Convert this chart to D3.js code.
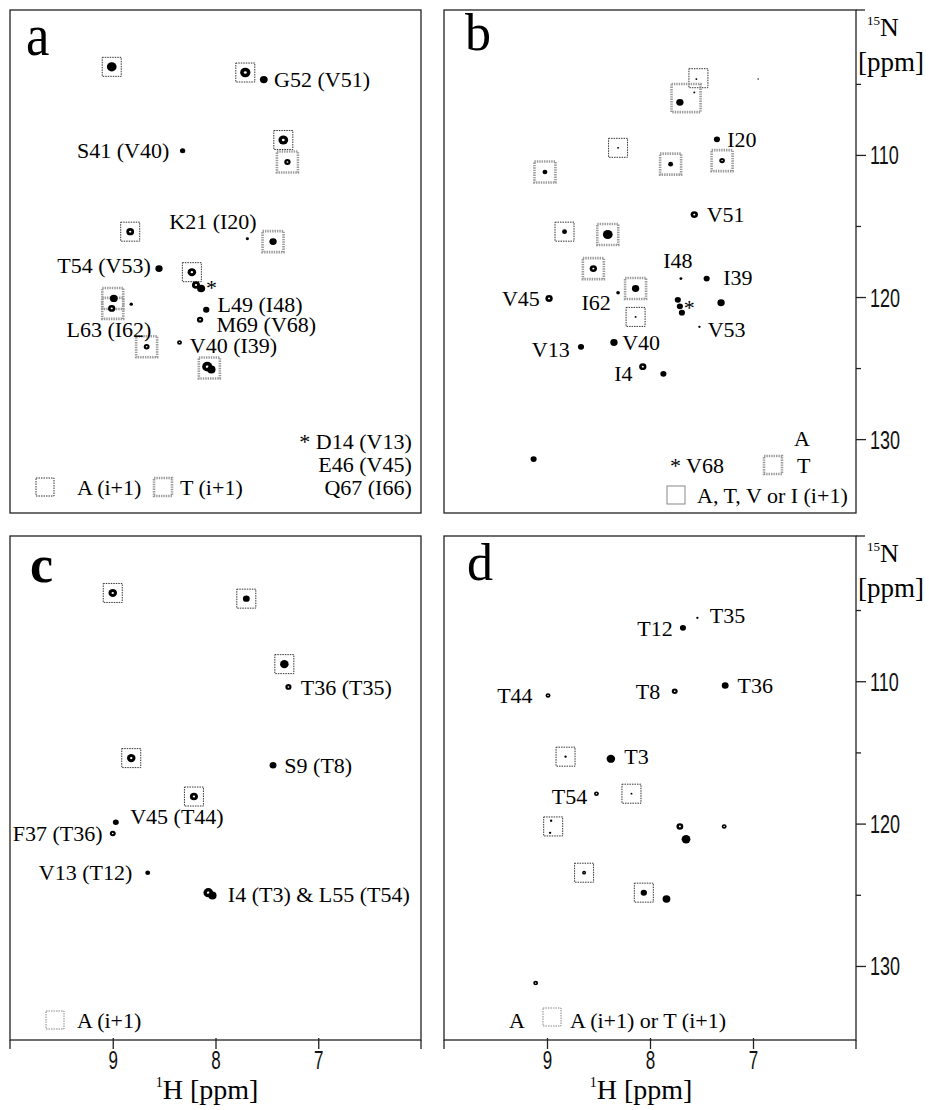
<!DOCTYPE html>
<html>
<head>
<meta charset="utf-8">
<script src="https://cdn.jsdelivr.net/npm/d3@7"></script>
<style>
body { margin: 0; background: #fff; }
svg { display: block; }
</style>
</head>
<body>
<svg id="fig" width="929" height="1110"></svg>
<script>
// spectral window shared by all four panels (ppm)
var H_DOMAIN = [10, 6];
var N_DOMAIN = [99.8, 135.2];
var H_TICKS = [9, 8, 7];
var N_TICKS = [105, 110, 115, 120, 125, 130];

// peaks: [1H ppm, 15N ppm, contour level, 'o' = open top contour]
var peaksA = [
  [9.01, 103.8, 4, '.'], [7.71, 104.2, 4.2, 'o'], [7.53, 104.7, 3.2, '.'],
  [8.32, 109.7, 2.2, '.'], [7.34, 108.95, 4, 'o'], [7.30, 110.5, 2.6, 'o'],
  [7.69, 115.9, 1.3, '.'], [8.83, 115.4, 3.2, 'o'], [7.44, 116.1, 3, '.'],
  [8.55, 118.0, 3, '.'], [8.23, 118.25, 3.5, 'o'], [8.19, 119.15, 3.3, 'o'],
  [8.14, 119.4, 3.3, '.'], [8.99, 120.1, 3.2, '.'], [9.01, 120.8, 3, 'o'],
  [8.82, 120.5, 1.4, '.'], [8.09, 120.9, 2.6, '.'], [8.15, 121.6, 2.6, 'o'],
  [8.67, 123.5, 2.4, 'o'], [8.35, 123.2, 2, 'o'], [8.08, 124.9, 4.2, 'o'],
  [8.04, 125.1, 3.4, '.']
];
// boxes: [1H, 15N, residue type of i+1, optional half widths in ppm]
var boxesA = [
  [9.01, 103.8, 'A'], [7.71, 104.2, 'A'], [7.34, 108.95, 'A'], [7.30, 110.5, 'T'],
  [8.83, 115.4, 'A'], [7.44, 116.1, 'T'], [8.23, 118.25, 'A'], [9.0, 120.1, 'T'],
  [9.0, 120.8, 'T'], [8.67, 123.5, 'T'], [8.06, 125.0, 'T']
];
var labelsA = [
  ['G52 (V51)', 7.43, 104.7, 'start'], ['S41 (V40)', 8.45, 109.7, 'end'],
  ['K21 (I20)', 8.45, 114.7, 'start'], ['T54 (V53)', 9.54, 117.76, 'start'],
  ['*', 8.04, 119.35, 'middle'], ['L49 (I48)', 7.98, 120.5, 'start'],
  ['M69 (V68)', 7.99, 121.9, 'start'], ['L63 (I62)', 9.45, 122.3, 'start'],
  ['V40 (I39)', 8.25, 123.4, 'start'], ['* D14 (V13)', 6.09, 130.15, 'end'],
  ['E46 (V45)', 6.09, 131.75, 'end'], ['Q67 (I66)', 6.09, 133.4, 'end']
];

var peaksB = [
  [7.55, 104.66, 0.8, '.'], [7.71, 106.3, 3, '.'], [7.57, 105.6, 0.8, '.'],
  [6.95, 104.66, 0.6, '.'], [7.35, 108.9, 2.5, '.'], [8.31, 109.5, 0.8, '.'],
  [9.02, 111.2, 2, '.'], [7.80, 110.65, 2, '.'], [7.30, 110.4, 2.3, 'o'],
  [7.57, 114.2, 3, 'o'], [8.83, 115.4, 2, '.'], [8.41, 115.6, 4, '.'],
  [8.55, 118.0, 3, 'o'], [7.70, 118.7, 1.2, '.'], [7.45, 118.7, 2.5, '.'],
  [8.98, 120.1, 3, 'o'], [8.31, 119.7, 1.5, '.'], [8.14, 119.4, 3, '.'],
  [8.14, 121.4, 0.8, '.'], [7.73, 120.2, 2.5, '.'], [7.71, 120.65, 2.5, '.'],
  [7.69, 121.1, 2.5, '.'], [7.31, 120.4, 3, '.'], [7.52, 122.1, 1, '.'],
  [8.35, 123.2, 3, '.'], [8.67, 123.5, 2.5, '.'], [8.07, 124.9, 3, 'o'],
  [7.87, 125.4, 2.5, '.'], [9.13, 131.4, 2.5, '.']
];
var boxesB = [
  [7.53, 104.6, 'A'], [7.65, 106.0, 'T', 0.141, 0.99], [8.31, 109.5, 'A'],
  [9.02, 111.2, 'T'], [7.80, 110.65, 'T'], [7.30, 110.4, 'T'], [8.83, 115.4, 'A'],
  [8.41, 115.6, 'T'], [8.55, 118.0, 'T'], [8.14, 119.4, 'T'], [8.14, 121.4, 'A']
];
var labelsB = [
  ['I20', 7.25, 108.9, 'start'], ['V51', 7.45, 114.2, 'start'], ['I48', 7.73, 117.4, 'middle'],
  ['I39', 7.29, 118.6, 'start'], ['V45', 9.07, 120.1, 'end'], ['I62', 8.38, 120.4, 'end'],
  ['*', 7.62, 120.75, 'middle'], ['V53', 7.44, 122.3, 'start'], ['V40', 8.27, 123.2, 'start'],
  ['V13', 8.78, 123.7, 'end'], ['I4', 8.17, 125.4, 'end']
];

var peaksC = [
  [9.0, 103.8, 3.5, 'o'], [7.70, 104.2, 2.8, '.'], [7.33, 108.8, 3.5, '.'],
  [7.29, 110.4, 2.5, 'o'], [8.82, 115.4, 3.5, 'o'], [7.44, 115.9, 2.8, '.'],
  [8.21, 118.1, 3.3, 'o'], [8.97, 119.9, 2.4, '.'], [9.0, 120.7, 2.4, 'o'],
  [8.66, 123.45, 2, '.'], [8.07, 124.85, 4, 'o'], [8.03, 125.05, 3.4, '.']
];
var boxesC = [
  [9.0, 103.8, 'A'], [7.70, 104.2, 'A'], [7.33, 108.8, 'A'], [8.82, 115.4, 'A'], [8.21, 118.1, 'A']
];
var labelsC = [
  ['T36 (T35)', 7.17, 110.4, 'start'], ['S9 (T8)', 7.33, 115.9, 'start'],
  ['V45 (T44)', 8.83, 119.5, 'start'], ['F37 (T36)', 9.10, 120.7, 'end'],
  ['V13 (T12)', 8.81, 123.45, 'end'], ['I4 (T3) & L55 (T54)', 7.88, 124.95, 'start']
];

var peaksD = [
  [7.68, 106.25, 2.5, '.'], [7.54, 105.55, 1, '.'], [8.99, 111.0, 2, 'o'],
  [7.76, 110.7, 2.4, 'o'], [7.27, 110.3, 2.8, '.'], [8.82, 115.3, 1, '.'],
  [8.38, 115.45, 3.5, '.'], [8.52, 117.9, 2, 'o'], [8.18, 117.9, 0.8, '.'],
  [8.96, 119.8, 1, '.'], [8.97, 120.65, 1, '.'], [7.71, 120.2, 2.8, 'o'],
  [7.65, 121.1, 3.6, '.'], [7.28, 120.2, 2, 'o'], [8.64, 123.45, 1.6, 'o'],
  [8.06, 124.85, 2.6, '.'], [7.84, 125.3, 3.2, '.'], [9.11, 131.2, 2, 'o']
];
var boxesD = [
  [8.82, 115.3, 'A'], [8.18, 117.9, 'A'], [8.94, 120.2, 'A'], [8.64, 123.45, 'A'], [8.06, 124.85, 'A']
];
var labelsD = [
  ['T12', 7.78, 106.25, 'end'], ['T35', 7.42, 105.4, 'start'], ['T44', 9.14, 111.0, 'end'],
  ['T8', 7.90, 110.7, 'end'], ['T36', 7.15, 110.3, 'start'], ['T3', 8.25, 115.3, 'start'],
  ['T54', 8.61, 118.1, 'end']
];

var COLS = [[10, 421], [444, 856]];
var ROWS = [[10, 513], [536, 1040]];
var SERIF = "'Liberation Serif', 'Times New Roman', serif";
var SANS = "'Liberation Sans', Arial, sans-serif";

var panels = [
  {name: 'a', col: 0, row: 0, peaks: peaksA, boxes: boxesA, labels: labelsA, lx: 16, ly: 45, fs: 60, sx: 0.88, bold: false},
  {name: 'b', col: 1, row: 0, peaks: peaksB, boxes: boxesB, labels: labelsB, lx: 21, ly: 40, fs: 52, sx: 1, bold: false},
  {name: 'c', col: 0, row: 1, peaks: peaksC, boxes: boxesC, labels: labelsC, lx: 20, ly: 46, fs: 52, sx: 1, bold: true},
  {name: 'd', col: 1, row: 1, peaks: peaksD, boxes: boxesD, labels: labelsD, lx: 23, ly: 44, fs: 52, sx: 1, bold: false}
];

var svg = d3.select('#fig');

function boxStyle(sel, type) {
  if (type === 'T') {
    sel.attr('stroke', '#9a9a9a').attr('stroke-width', 2.6).attr('stroke-dasharray', '1.4 1');
  } else {
    sel.attr('stroke', '#333').attr('stroke-width', 1).attr('stroke-dasharray', '1.5 1');
  }
}

function drawBox(g, cx, cy, w, h, type) {
  var r = g.append('rect')
      .attr('x', cx - w / 2).attr('y', cy - h / 2)
      .attr('width', w).attr('height', h)
      .attr('fill', 'none');
  boxStyle(r, type);
  return r;
}

function serifText(g, x, y, txt, anchor, size) {
  return g.append('text')
      .attr('x', x).attr('y', y)
      .attr('dy', '0.35em')
      .attr('text-anchor', anchor || 'start')
      .style('font-family', SERIF)
      .style('font-size', (size || 22) + 'px')
      .text(txt);
}

panels.forEach(function(p) {
  var x0 = COLS[p.col][0], x1 = COLS[p.col][1];
  var y0 = ROWS[p.row][0], y1 = ROWS[p.row][1];
  var x = d3.scaleLinear().domain(H_DOMAIN).range([x0, x1]);
  var y = d3.scaleLinear().domain(N_DOMAIN).range([y0, y1]);
  var g = svg.append('g').attr('class', 'panel-' + p.name);

  // frame
  g.append('rect')
      .attr('x', x0).attr('y', y0)
      .attr('width', x1 - x0).attr('height', y1 - y0)
      .attr('fill', 'none').attr('stroke', '#222').attr('stroke-width', 1.3);

  // boxes
  p.boxes.forEach(function(b) {
    var w = b[3] ? Math.abs(x(b[0] + b[3]) - x(b[0] - b[3])) : (b[2] === 'T' ? 21 : 19);
    var h = b[4] ? Math.abs(y(b[1] + b[4]) - y(b[1] - b[4])) : w;
    drawBox(g, x(b[0]), y(b[1]), w, h, b[2]);
  });

  // peaks
  var pk = g.append('g').selectAll('g').data(p.peaks).enter().append('g')
      .attr('transform', function(d) { return 'translate(' + x(d[0]) + ',' + y(d[1]) + ')'; });
  pk.append('ellipse')
      .attr('rx', function(d) { return d[2] * 1.22; })
      .attr('ry', function(d) { return d[2] * 1.15; })
      .attr('fill', '#000');
  pk.filter(function(d) { return d[3] === 'o'; }).append('ellipse')
      .attr('rx', function(d) { return d[2] * 0.35; })
      .attr('ry', function(d) { return d[2] * 0.3; })
      .attr('fill', '#fff');

  // labels
  p.labels.forEach(function(l) {
    serifText(g, x(l[1]), y(l[2]), l[0], l[3]);
  });

  // panel letter
  g.append('text')
      .attr('transform', 'translate(' + (x0 + p.lx) + ',' + (y0 + p.ly) + ') scale(' + p.sx + ',1)')
      .style('font-family', SERIF)
      .style('font-size', p.fs + 'px')
      .style('font-weight', p.bold ? 'bold' : 'normal')
      .text(p.name);

  // 1H axis along the bottom row
  if (p.row === 1) {
    var ax = g.append('g')
        .attr('transform', 'translate(0,' + y1 + ')')
        .call(d3.axisBottom(x).tickValues(H_TICKS).tickSize(9).tickSizeOuter(0).tickFormat(d3.format('d')));
    ax.select('.domain').remove();
    ax.attr('font-family', null).attr('font-size', null);
    ax.selectAll('line').attr('y1', -2).attr('stroke', '#222').attr('stroke-width', 1.3);
    ax.selectAll('text')
        .attr('y', 0).attr('dy', null)
        .attr('transform', 'translate(0,29) scale(0.68,1)')
        .style('font-family', SANS).style('font-size', '25px').attr('fill', '#111');
    [x0, x1].forEach(function(xe) {
      g.append('line').attr('x1', xe).attr('x2', xe).attr('y1', y1).attr('y2', y1 + 9)
          .attr('stroke', '#222').attr('stroke-width', 1.3);
    });
    var t = g.append('text')
        .attr('x', x0 + 197).attr('y', y1 + 59)
        .attr('text-anchor', 'middle')
        .style('font-family', SERIF).style('font-size', '28px');
    t.append('tspan').attr('font-size', '14px').attr('dy', '-12').text('1');
    t.append('tspan').attr('dy', '12').text('H [ppm]');
  }

  // 15N axis on the right column
  if (p.col === 1) {
    var ay = g.append('g')
        .attr('transform', 'translate(' + x1 + ',0)')
        .call(d3.axisRight(y).tickValues(N_TICKS).tickSize(10).tickSizeOuter(0)
            .tickFormat(function(d) { return d % 10 ? '' : d; }));
    ay.select('.domain').remove();
    ay.attr('font-family', null).attr('font-size', null);
    ay.selectAll('line').attr('stroke', '#222').attr('stroke-width', 1.3);
    ay.selectAll('.tick').filter(function(d) { return d % 10; }).select('line').attr('x2', 5);
    ay.selectAll('text')
        .attr('x', 0).attr('dy', '0.36em')
        .attr('transform', 'translate(14,0) scale(0.72,1)')
        .style('font-family', SANS).style('font-size', '25px').attr('fill', '#111');
    g.append('line').attr('x1', x1).attr('x2', x1 + 9).attr('y1', y0).attr('y2', y0)
        .attr('stroke', '#222').attr('stroke-width', 1.3);
    var n = g.append('text')
        .attr('x', x1 + 11).attr('y', y0 + 26)
        .style('font-family', SERIF).style('font-size', '26px');
    n.append('tspan').attr('font-size', '13px').attr('dy', '-11').text('15');
    n.append('tspan').attr('dy', '11').text('N');
    g.append('text')
        .attr('x', x1 + 2).attr('y', y0 + 61)
        .style('font-family', SERIF).style('font-size', '27px')
        .text('[ppm]');
  }
});

// legends (placed in pixel offsets from each panel corner)
function legendBox(px, py, type) { return drawBox(svg, px, py, 18, 18, type); }

// a
legendBox(COLS[0][0] + 35, ROWS[0][0] + 477, 'A');
serifText(svg, COLS[0][0] + 67, ROWS[0][0] + 477, 'A (i+1)');
legendBox(COLS[0][0] + 153, ROWS[0][0] + 477, 'T');
serifText(svg, COLS[0][0] + 170, ROWS[0][0] + 477, 'T (i+1)');

// b
serifText(svg, COLS[1][0] + 358, ROWS[0][0] + 428, 'A', 'middle');
legendBox(COLS[1][0] + 329, ROWS[0][0] + 455, 'T');
serifText(svg, COLS[1][0] + 353, ROWS[0][0] + 455, 'T');
serifText(svg, COLS[1][0] + 226, ROWS[0][0] + 455, '* V68');
legendBox(COLS[1][0] + 232, ROWS[0][0] + 485, 'A').attr('stroke-dasharray', null).attr('stroke', '#888');
serifText(svg, COLS[1][0] + 253, ROWS[0][0] + 485, 'A, T, V or I (i+1)');

// c
legendBox(COLS[0][0] + 45, ROWS[1][0] + 484, 'A').attr('stroke', '#888');
serifText(svg, COLS[0][0] + 67, ROWS[1][0] + 484, 'A (i+1)');

// d
serifText(svg, COLS[1][0] + 73, ROWS[1][0] + 484, 'A', 'middle');
legendBox(COLS[1][0] + 108, ROWS[1][0] + 481, 'A').attr('stroke', '#888');
serifText(svg, COLS[1][0] + 126, ROWS[1][0] + 484, 'A (i+1) or T (i+1)');
</script>
</body>
</html>
